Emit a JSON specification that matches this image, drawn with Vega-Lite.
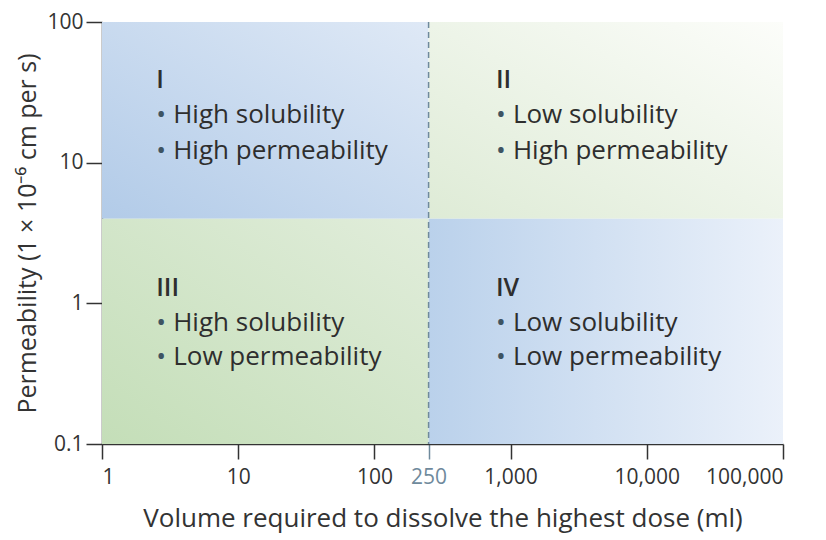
{
  "$schema": "https://vega.github.io/schema/vega-lite/v6.json",
  "autosize": "none",
  "width": 681,
  "height": 422,
  "padding": {"left": 102, "top": 22, "right": 43, "bottom": 96},
  "background": "white",
  "config": {
    "view": {"stroke": null},
    "font": "Open Sans",
    "axis": {"grid": false, "domainColor": "#333333", "domainWidth": 1.5, "tickColor": "#333333", "tickWidth": 1.5, "tickSize": 15, "labelFont": "Open Sans", "labelFontSize": 21, "labelColor": "#333333", "titleFont": "Open Sans", "titleFontSize": 26, "titleFontWeight": "normal", "titleColor": "#333333"}
  },
  "datasets": {
    "quadrants": [
      {"q": "I", "x1": 1, "x2": 250, "y1": 4, "y2": 100},
      {"q": "II", "x1": 250, "x2": 100000, "y1": 4, "y2": 100},
      {"q": "III", "x1": 1, "x2": 250, "y1": 0.1, "y2": 4},
      {"q": "IV", "x1": 250, "x2": 100000, "y1": 0.1, "y2": 4}
    ],
    "labels": [
      {"q": "I", "kind": "numeral", "text": "I", "x": 2.5, "y": 38.7},
      {"q": "I", "kind": "line", "text": "High solubility", "x": 2.5, "y": 21.8},
      {"q": "I", "kind": "line", "text": "High permeability", "x": 2.5, "y": 12.1},
      {"q": "II", "kind": "numeral", "text": "II", "x": 780, "y": 38.7},
      {"q": "II", "kind": "line", "text": "Low solubility", "x": 780, "y": 21.8},
      {"q": "II", "kind": "line", "text": "High permeability", "x": 780, "y": 12.1},
      {"q": "III", "kind": "numeral", "text": "III", "x": 2.5, "y": 1.29},
      {"q": "III", "kind": "line", "text": "High solubility", "x": 2.5, "y": 0.728},
      {"q": "III", "kind": "line", "text": "Low permeability", "x": 2.5, "y": 0.418},
      {"q": "IV", "kind": "numeral", "text": "IV", "x": 780, "y": 1.29},
      {"q": "IV", "kind": "line", "text": "Low solubility", "x": 780, "y": 0.728},
      {"q": "IV", "kind": "line", "text": "Low permeability", "x": 780, "y": 0.418}
    ],
    "cutoff": [{"x": 250}]
  },
  "layer": [
    {
      "data": {"name": "quadrants"},
      "transform": [{"filter": "datum.q == 'I'"}],
      "mark": {"type": "rect", "fill": {"gradient": "linear", "x1": 0, "y1": 1, "x2": 1, "y2": 0, "stops": [{"offset": 0, "color": "#b2cbe8"}, {"offset": 1, "color": "#dfe9f6"}]}},
      "encoding": {
        "x": {"field": "x1", "type": "quantitative", "scale": {"type": "log", "domain": [1, 100000]},
          "axis": {"values": [1, 10, 100, 250, 1000, 10000, 100000], "format": ",", "labelPadding": 7, "title": "Volume required to dissolve the highest dose (ml)", "titlePadding": 18,
            "labelColor": {"condition": {"test": "datum.value == 250", "value": "#6f8a9c"}, "value": "#333333"},
            "tickColor": {"condition": {"test": "datum.value == 250", "value": "#6f8a9c"}, "value": "#333333"}}},
        "x2": {"field": "x2"},
        "y": {"field": "y1", "type": "quantitative", "scale": {"type": "log", "domain": [0.1, 100]},
          "axis": {"values": [0.1, 1, 10, 100], "format": "~g", "tickSize": 16, "labelPadding": 3, "title": "Permeability (1 × 10⁻⁶ cm per s)", "titleFontSize": 25, "titlePadding": 6}},
        "y2": {"field": "y2"}
      }
    },
    {
      "data": {"name": "quadrants"},
      "transform": [{"filter": "datum.q == 'II'"}],
      "mark": {"type": "rect", "fill": {"gradient": "linear", "x1": 0, "y1": 1, "x2": 1, "y2": 0, "stops": [{"offset": 0, "color": "#deebd6"}, {"offset": 1, "color": "#fcfdfa"}]}},
      "encoding": {"x": {"field": "x1", "type": "quantitative"}, "x2": {"field": "x2"}, "y": {"field": "y1", "type": "quantitative"}, "y2": {"field": "y2"}}
    },
    {
      "data": {"name": "quadrants"},
      "transform": [{"filter": "datum.q == 'III'"}],
      "mark": {"type": "rect", "fill": {"gradient": "linear", "x1": 0, "y1": 1, "x2": 1, "y2": 0, "stops": [{"offset": 0, "color": "#c4deb8"}, {"offset": 1, "color": "#e1eddb"}]}},
      "encoding": {"x": {"field": "x1", "type": "quantitative"}, "x2": {"field": "x2"}, "y": {"field": "y1", "type": "quantitative"}, "y2": {"field": "y2"}}
    },
    {
      "data": {"name": "quadrants"},
      "transform": [{"filter": "datum.q == 'IV'"}],
      "mark": {"type": "rect", "fill": {"gradient": "linear", "x1": 0, "y1": 0, "x2": 1, "y2": 0, "stops": [{"offset": 0, "color": "#bad1eb"}, {"offset": 1, "color": "#ebf1fa"}]}},
      "encoding": {"x": {"field": "x1", "type": "quantitative"}, "x2": {"field": "x2"}, "y": {"field": "y1", "type": "quantitative"}, "y2": {"field": "y2"}}
    },
    {
      "data": {"name": "cutoff"},
      "mark": {"type": "rule", "color": "#6f8a9c", "strokeWidth": 1.5, "strokeDash": [6, 4]},
      "encoding": {"x": {"field": "x", "type": "quantitative"}}
    },
    {
      "data": {"name": "labels"},
      "transform": [{"filter": "datum.kind == 'numeral'"}],
      "mark": {"type": "text", "align": "left", "baseline": "middle", "font": "Open Sans", "fontSize": 25, "fontWeight": 600, "color": "#2e2e2e"},
      "encoding": {"x": {"field": "x", "type": "quantitative"}, "y": {"field": "y", "type": "quantitative"}, "text": {"field": "text"}}
    },
    {
      "data": {"name": "labels"},
      "transform": [{"filter": "datum.kind == 'line'"}],
      "mark": {"type": "text", "align": "left", "baseline": "middle", "font": "Open Sans", "fontSize": 26, "color": "#3e5462", "text": "•"},
      "encoding": {"x": {"field": "x", "type": "quantitative"}, "y": {"field": "y", "type": "quantitative"}}
    },
    {
      "data": {"name": "labels"},
      "transform": [{"filter": "datum.kind == 'line'"}],
      "mark": {"type": "text", "align": "left", "baseline": "middle", "font": "Open Sans", "fontSize": 26, "color": "#2e2e2e", "dx": 17},
      "encoding": {"x": {"field": "x", "type": "quantitative"}, "y": {"field": "y", "type": "quantitative"}, "text": {"field": "text"}}
    }
  ]
}
